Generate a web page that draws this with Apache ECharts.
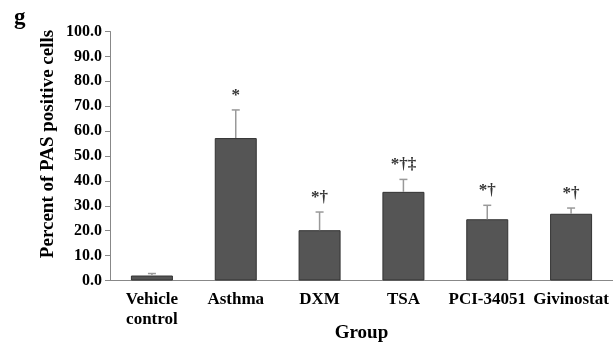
<!DOCTYPE html>
<html><head><meta charset="utf-8">
<script src="https://cdn.jsdelivr.net/npm/echarts@6/dist/echarts.min.js"></script>
<style>html,body{margin:0;padding:0;background:#fff}#c{width:613px;height:345px}</style>
</head><body><div id="c"></div>
<script>
const categories = ['Vehicle\ncontrol', 'Asthma', 'DXM', 'TSA', 'PCI-34051', 'Givinostat'];
const means = [2.0, 57.2, 20.2, 35.6, 24.6, 26.8];
const errors = [0.8, 11.3, 7.3, 5.0, 5.6, 2.3];
const marks = ['', '*', '*†', '*†‡', '*†', '*†'];
const yTicks = [0, 10, 20, 30, 40, 50, 60, 70, 80, 90, 100];
const yTitle = 'Percent of PAS positive cells';

const font = '"Liberation Serif", "Times New Roman", serif';
const chart = echarts.init(document.getElementById('c'));
chart.setOption({
  animation: false,
  graphic: [
    {type: 'text', left: 14, top: 7, style: {text: 'g', font: 'bold 23px ' + font, fill: '#000'}},
    {type: 'text', x: 48, y: 144, rotation: Math.PI / 2, style: {text: yTitle, align: 'center', verticalAlign: 'middle', font: 'bold 19px ' + font, fill: '#000'}}
  ],
  grid: {left: 110, right: 0, top: 31.5, bottom: 64.5, containLabel: false, outerBoundsMode: 'none'},
  xAxis: {
    type: 'category', data: categories,
    axisLine: {lineStyle: {color: '#888', width: 1}},
    axisTick: {show: false},
    axisLabel: {color: '#000', fontFamily: font, fontWeight: 'bold', fontSize: 17, lineHeight: 20, margin: 9, interval: 0},
    name: 'Group', nameLocation: 'middle', nameGap: 43, nameMoveOverlap: false,
    nameTextStyle: {color: '#000', fontFamily: font, fontWeight: 'bold', fontSize: 19}
  },
  yAxis: {
    type: 'value', min: yTicks[0], max: yTicks[yTicks.length - 1], interval: 10,
    axisLine: {show: true, lineStyle: {color: '#888', width: 1}},
    axisTick: {show: true, length: 5, lineStyle: {color: '#888'}},
    splitLine: {show: false},
    axisLabel: {color: '#000', fontFamily: font, fontWeight: 'bold', fontSize: 16, margin: 8, formatter: v => v.toFixed(1)}
  },
  series: [{
    type: 'bar', data: means, barWidth: 42,
    itemStyle: {color: '#555', borderColor: '#333', borderWidth: 1}
  }, {
    type: 'custom',
    data: means.map((m, i) => [i, m, errors[i]]),
    renderItem: (params, api) => {
      const x = api.value(0), m = api.value(1), e = api.value(2);
      const base = api.coord([x, m]);
      const top = api.coord([x, m + e]);
      const txt = marks[params.dataIndex];
      const children = [
        {type: 'line', shape: {x1: base[0], y1: base[1], x2: top[0], y2: top[1]}, style: {stroke: '#999', lineWidth: 1.5}},
        {type: 'line', shape: {x1: top[0] - 4, y1: top[1], x2: top[0] + 4, y2: top[1]}, style: {stroke: '#999', lineWidth: 1.5}}
      ];
      if (txt) children.push({type: 'text', style: {text: txt, x: top[0], y: top[1] - 6, align: 'center', verticalAlign: 'bottom', font: 'bold 17px ' + font, fill: '#333'}});
      return {type: 'group', children};
    },
    z: 3
  }]
});
</script></body></html>
